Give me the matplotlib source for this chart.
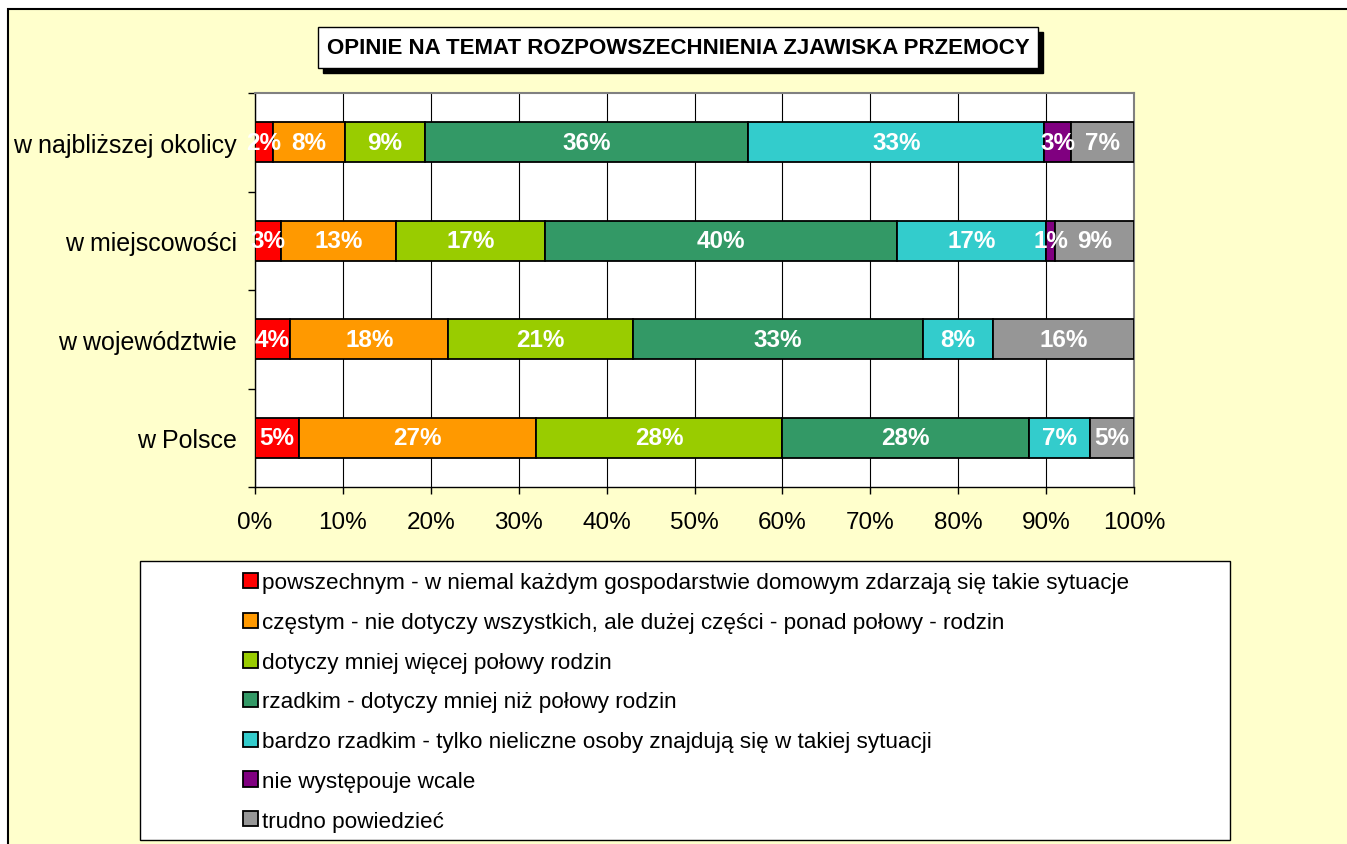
import matplotlib.pyplot as plt
from matplotlib.patches import Rectangle
import numpy as np

plt.rcParams['font.family'] = ['Liberation Sans', 'DejaVu Sans']

categories = ['w najbliższej okolicy', 'w miejscowości', 'w województwie', 'w Polsce']

series_names = [
    'powszechnym - w niemal każdym gospodarstwie domowym zdarzają się takie sytuacje',
    'częstym - nie dotyczy wszystkich, ale dużej części - ponad połowy - rodzin',
    'dotyczy mniej więcej połowy rodzin',
    'rzadkim - dotyczy mniej niż połowy rodzin',
    'bardzo rzadkim - tylko nieliczne osoby znajdują się w takiej sytuacji',
    'nie występouje wcale',
    'trudno powiedzieć',
]
powszechnym = [2, 3, 4, 5]
czestym = [8, 13, 18, 27]
polowa = [9, 17, 21, 28]
rzadkim = [36, 40, 33, 28]
bardzo_rzadkim = [33, 17, 8, 7]
wcale = [3, 1, 0, 0]
trudno = [7, 9, 16, 5]

colors = ['#FF0000', '#FF9900', '#99CC00', '#339966', '#33CCCC', '#800080', '#969696']

values = np.array([powszechnym, czestym, polowa, rzadkim, bardzo_rzadkim, wcale, trudno], dtype=float)
totals = values.sum(axis=0)
shares = values / totals * 100  # 100% stacked

fig = plt.figure(figsize=(13.47, 8.45), dpi=100, facecolor='white')

# outer yellow frame
fig.add_artist(Rectangle((8 / 1347, -0.05), 1.1, 1 - 10 / 845 + 0.05, transform=fig.transFigure,
                         facecolor='#FFFFCC', edgecolor='black', lw=1.5, zorder=0))

ax = fig.add_axes([255 / 1347, 1 - 488 / 845, (1134 - 255) / 1347, (488 - 94) / 845])
ax.set_facecolor('white')

y = np.arange(len(categories))
left = np.zeros(len(categories))
bars = []
for i in range(len(series_names)):
    b = ax.barh(y, shares[i], left=left, height=0.41, color=colors[i],
                edgecolor='black', linewidth=1.3, label=series_names[i], zorder=3)
    bars.append(b)
    for j in range(len(categories)):
        if values[i, j] > 0:
            ax.text(left[j] + shares[i, j] / 2, y[j], f'{values[i, j]:.0f}%',
                    ha='center', va='center', color='white', fontsize=17.5,
                    fontweight='bold', zorder=4)
    left = left + shares[i]

ax.set_xlim(0, 100)
ax.set_ylim(len(categories) - 0.5, -0.5)
ax.set_xticks(np.arange(0, 101, 10))
ax.set_xticklabels([f'{v}%' for v in range(0, 101, 10)], fontsize=17.5)
ax.set_yticks(y)
ax.set_yticklabels(categories, fontsize=18)
ax.set_yticks(np.arange(-0.5, len(categories), 1), minor=True)
ax.tick_params(axis='y', which='major', length=0, pad=13)
ax.tick_params(axis='y', which='minor', length=5, width=1, direction='out')
ax.tick_params(axis='x', which='major', length=5, width=1, direction='out', pad=12)
ax.xaxis.grid(True, color='black', linewidth=0.8)
ax.set_axisbelow(True)
for s in ['top', 'right']:
    ax.spines[s].set_color('#808080')
    ax.spines[s].set_linewidth(1.5)
for s in ['left', 'bottom']:
    ax.spines[s].set_color('black')
    ax.spines[s].set_linewidth(1)

# title box with shadow
fig.add_artist(Rectangle((323 / 1347, 1 - 74 / 845), 720 / 1347, 41 / 845,
                         transform=fig.transFigure, facecolor='black', edgecolor='black', zorder=5))
fig.add_artist(Rectangle((318 / 1347, 1 - 69 / 845), 720 / 1347, 41 / 845,
                         transform=fig.transFigure, facecolor='white', edgecolor='black', lw=1, zorder=6))
fig.text(678 / 1347, 1 - 49 / 845, 'OPINIE NA TEMAT ROZPOWSZECHNIENIA ZJAWISKA PRZEMOCY',
         ha='center', va='center', fontsize=16, fontweight='bold', zorder=7)

# legend box
fig.add_artist(Rectangle((140 / 1347, 1 - 841 / 845), 1090 / 1347, 279 / 845,
                         transform=fig.transFigure, facecolor='white', edgecolor='black', lw=1, zorder=5))
leg = fig.legend(handles=bars, labels=series_names, loc='center',
                 bbox_to_anchor=(686 / 1347, 1 - 703 / 845), frameon=False, fontsize=16.2,
                 handlelength=0.66, handleheight=0.66, handletextpad=0.2, labelspacing=0.83,
                 borderpad=0)
leg.set_zorder(8)

fig.savefig('out.png', dpi=100, facecolor=fig.get_facecolor())
